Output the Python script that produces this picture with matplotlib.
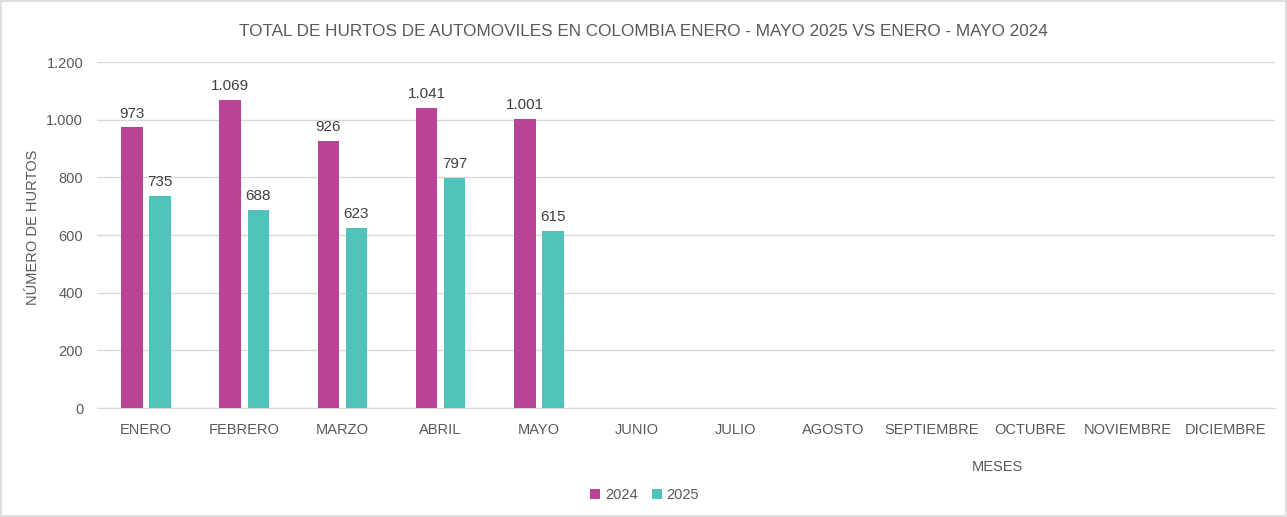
import numpy as np
import matplotlib
matplotlib.use("Agg")
import matplotlib.pyplot as plt
from matplotlib.ticker import FuncFormatter
from matplotlib.patches import Rectangle

meses = ["ENERO", "FEBRERO", "MARZO", "ABRIL", "MAYO", "JUNIO", "JULIO",
         "AGOSTO", "SEPTIEMBRE", "OCTUBRE", "NOVIEMBRE", "DICIEMBRE"]
hurtos_2024 = [973, 1069, 926, 1041, 1001]
hurtos_2025 = [735, 688, 623, 797, 615]

plt.rcParams['font.family'] = ['Liberation Sans', 'DejaVu Sans']
gris = "#595959"

def miles(v, pos=None):
    return f"{int(v):,}".replace(",", ".")

fig = plt.figure(figsize=(12.87, 5.17), dpi=100)
ax = fig.add_axes([0.0754, 0.2108, 0.9153, 0.6692])

x = np.arange(len(meses))
w = 0.22
b1 = ax.bar(x[:len(hurtos_2024)] - 0.143, hurtos_2024, w, color="#B94496", label="2024", zorder=3)
b2 = ax.bar(x[:len(hurtos_2025)] + 0.143, hurtos_2025, w, color="#4FC3BA", label="2025", zorder=3)

for bars in (b1, b2):
    for r in bars:
        ax.annotate(miles(r.get_height()), (r.get_x() + r.get_width() / 2, r.get_height()),
                    xytext=(0, 5), textcoords="offset points", ha="center", va="bottom",
                    fontsize=11, color="#404040")

ax.set_xlim(-0.5, len(meses) - 0.5)
ax.set_ylim(0, 1200)
ax.set_yticks(range(0, 1201, 200))
ax.yaxis.set_major_formatter(FuncFormatter(miles))
ax.set_xticks(x)
ax.set_xticklabels(meses)
ax.tick_params(axis="both", length=0, labelsize=10.5, colors=gris)
ax.tick_params(axis="x", pad=11)
ax.tick_params(axis="y", pad=10)
ax.grid(axis="y", color="#D9D9D9", linewidth=1, zorder=0)
for s in ["top", "right", "left"]:
    ax.spines[s].set_visible(False)
ax.spines["bottom"].set_color("#D9D9D9")

fig.text(0.026, 0.56, "NÚMERO DE HURTOS", rotation=90, ha="center", va="center",
         fontsize=10.5, color=gris)
fig.text(0.775, 0.097, "MESES", ha="center", va="center", fontsize=10.5, color=gris)
fig.text(0.5, 0.940, "TOTAL DE HURTOS DE AUTOMOVILES EN COLOMBIA ENERO - MAYO 2025 VS ENERO - MAYO 2024",
         ha="center", va="center", fontsize=12.3, color=gris)

fig.legend(handles=[b1, b2], loc="center", bbox_to_anchor=(0.501, 0.042), ncol=2, frameon=False,
           fontsize=10.5, labelcolor=gris, handlelength=0.7, handleheight=0.7, handletextpad=0.3,
           columnspacing=1.0)

fig.patches.append(Rectangle((0.001, 0.001), 0.998, 0.998, transform=fig.transFigure,
                             fill=False, edgecolor="#D9D9D9", linewidth=1.2))

fig.savefig("out.png", dpi=100)
